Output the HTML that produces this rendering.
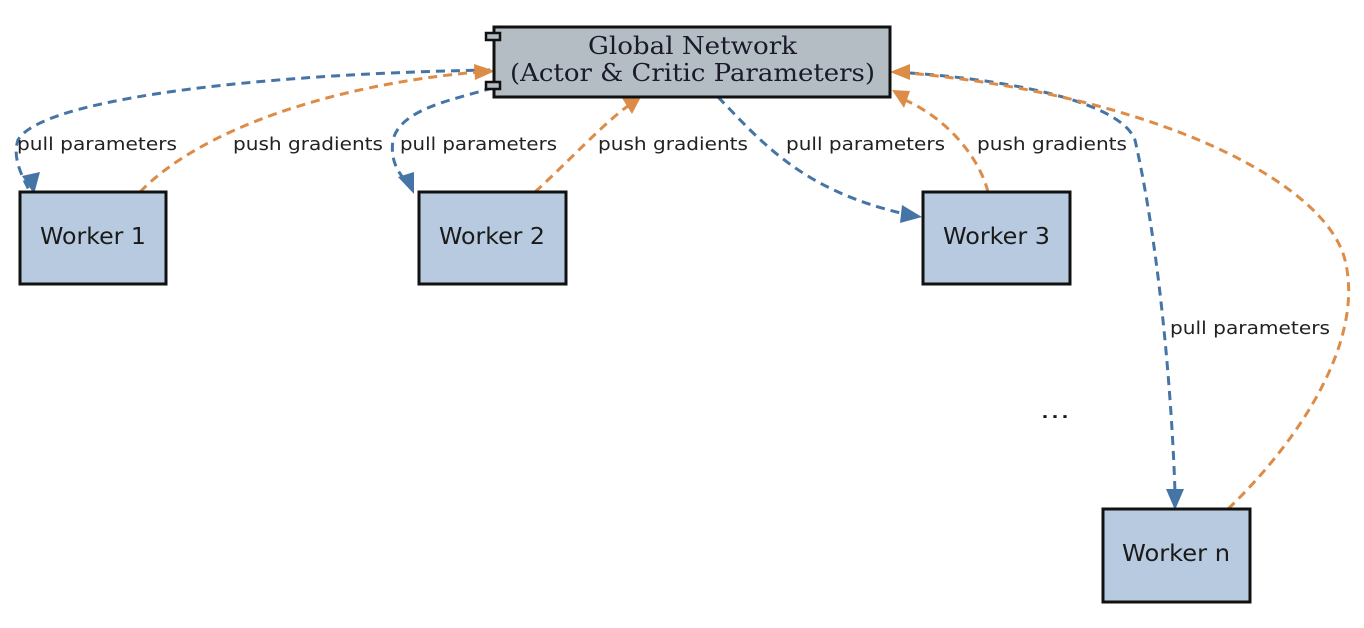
<!DOCTYPE html>
<html><head><meta charset="utf-8"><style>
html,body{margin:0;padding:0;background:#fff;}
svg{display:block;}
.l{font-family:"DejaVu Sans","Liberation Sans",sans-serif;font-size:18px;fill:#222;}
.w{font-family:"DejaVu Sans","Liberation Sans",sans-serif;font-size:23px;fill:#1a1a1a;}
.b{fill:none;stroke:#4575a6;stroke-width:3;stroke-dasharray:9,6;}
.o{fill:none;stroke:#dd8c47;stroke-width:3;stroke-dasharray:9,6;}
</style></head><body>
<svg width="1364" height="628" viewBox="0 0 1364 628" xmlns="http://www.w3.org/2000/svg">
<!-- edges -->
<path class="b" d="M490,70 C250,74 40,100 18,140 C12,158 22,176 30,192"/>
<path d="M22,176 L34,194 L40,172z" fill="#4575a6"/>
<path class="o" d="M140,192 C200,130 330,85 478,72"/>
<path d="M474,64 L495,71 L475,80z" fill="#dd8c47"/>
<path class="b" d="M493,88 C450,100 400,110 393,140 C390,160 398,172 405,180"/>
<path d="M398,177 L414,194 L414,172z" fill="#4575a6"/>
<path class="o" d="M535,192 C570,160 605,122 628,106"/>
<path d="M622,98 L642,95 L632,114z" fill="#dd8c47"/>
<path class="b" d="M718,97 C760,140 800,190 905,214"/>
<path d="M902,205 L922,217 L900,223z" fill="#4575a6"/>
<path class="o" d="M988,192 C980,160 950,120 905,100"/>
<path d="M910,91 L892,90 L904,108z" fill="#dd8c47"/>
<path class="b" d="M895,72 C1000,78 1120,100 1135,140 C1160,250 1172,400 1175,492"/>
<path d="M1166,489 L1175,510 L1184,489z" fill="#4575a6"/>
<path class="o" d="M1228,509 C1300,440 1365,340 1345,260 C1325,180 1150,95 908,73"/>
<path d="M910,64 L890,72 L910,80z" fill="#dd8c47"/>
<!-- global node -->
<rect x="494" y="27" width="396" height="70" fill="#b3bdc3" stroke="#111" stroke-width="3"/>
<rect x="486" y="33" width="14" height="7" fill="#b3bdc3" stroke="#111" stroke-width="2.5"/>
<rect x="486" y="82" width="14" height="7" fill="#b3bdc3" stroke="#111" stroke-width="2.5"/>
<text x="588" y="54" textLength="209" lengthAdjust="spacingAndGlyphs" font-family="'DejaVu Serif','Liberation Serif',serif" font-size="24" fill="#1a1a2a">Global Network</text>
<text x="510" y="81" textLength="365" lengthAdjust="spacingAndGlyphs" font-family="'DejaVu Serif','Liberation Serif',serif" font-size="24" fill="#1a1a2a">(Actor &amp; Critic Parameters)</text>
<!-- workers -->
<rect x="20" y="192" width="146" height="92" fill="#b7cadf" stroke="#111" stroke-width="3"/>
<text x="40" y="244" textLength="106" lengthAdjust="spacingAndGlyphs" class="w">Worker 1</text>
<rect x="419" y="192" width="147" height="92" fill="#b7cadf" stroke="#111" stroke-width="3"/>
<text x="439" y="244" textLength="106" lengthAdjust="spacingAndGlyphs" class="w">Worker 2</text>
<rect x="923" y="192" width="147" height="92" fill="#b7cadf" stroke="#111" stroke-width="3"/>
<text x="943" y="244" textLength="107" lengthAdjust="spacingAndGlyphs" class="w">Worker 3</text>
<rect x="1103" y="509" width="147" height="93" fill="#b7cadf" stroke="#111" stroke-width="3"/>
<text x="1122" y="561" textLength="108" lengthAdjust="spacingAndGlyphs" class="w">Worker n</text>
<!-- labels -->
<text x="17" y="150" textLength="160" lengthAdjust="spacingAndGlyphs" class="l">pull parameters</text>
<text x="233" y="150" textLength="150" lengthAdjust="spacingAndGlyphs" class="l">push gradients</text>
<text x="400" y="150" textLength="157" lengthAdjust="spacingAndGlyphs" class="l">pull parameters</text>
<text x="598" y="150" textLength="150" lengthAdjust="spacingAndGlyphs" class="l">push gradients</text>
<text x="786" y="150" textLength="159" lengthAdjust="spacingAndGlyphs" class="l">pull parameters</text>
<text x="977" y="150" textLength="150" lengthAdjust="spacingAndGlyphs" class="l">push gradients</text>
<text x="1170" y="334" textLength="160" lengthAdjust="spacingAndGlyphs" class="l">pull parameters</text>
<text x="1040" y="418" textLength="30" lengthAdjust="spacingAndGlyphs" class="w">...</text>
</svg>
</body></html>
